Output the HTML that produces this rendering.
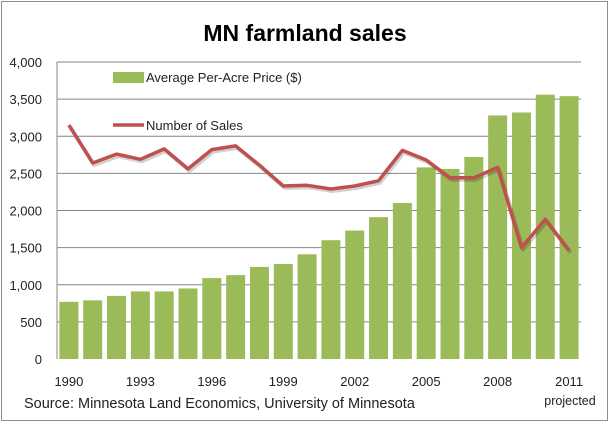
<!DOCTYPE html>
<html><head><meta charset="utf-8"><style>
body{margin:0;background:#fff;}
svg{display:block;font-family:"Liberation Sans",sans-serif;}
</style></head><body>
<svg id="chart" width="610" height="423">
<rect x="1.5" y="1.5" width="606" height="419" fill="#fff" stroke="#8c8c8c"/>
<text x="305" y="41" text-anchor="middle" font-size="23" font-weight="bold" fill="#000">MN farmland sales</text>
<g id="grid"></g><g id="bars"></g><g id="line"></g><g id="axes"></g>
<g>
<rect x="113" y="72" width="31" height="11" fill="#9bbb59"/>
<text x="146" y="82" font-size="13" fill="#222">Average Per-Acre Price ($)</text>
<line x1="113" y1="125" x2="144" y2="125" stroke="#c0504d" stroke-width="3.5"/>
<text x="146" y="130" font-size="13" fill="#222">Number of Sales</text>
</g>
<text x="24" y="408" font-size="14.5" fill="#222">Source: Minnesota Land Economics, University of Minnesota</text>
<text x="570" y="405" text-anchor="middle" font-size="12.5" fill="#222">projected</text>
</svg>
<script>
const years=[1990,1991,1992,1993,1994,1995,1996,1997,1998,1999,2000,2001,2002,2003,2004,2005,2006,2007,2008,2009,2010,2011];
const prices=[770,790,850,910,910,950,1090,1130,1240,1280,1410,1600,1730,1910,2100,2580,2560,2720,3280,3320,3560,3540];
const sales=[3150,2640,2760,2690,2830,2560,2820,2870,2610,2330,2340,2290,2330,2400,2810,2680,2440,2440,2580,1500,1880,1460];
const yTicks=[0,500,1000,1500,2000,2500,3000,3500,4000];
const xTickLabels=["1990","1993","1996","1999","2002","2005","2008","2011"];
const NS="http://www.w3.org/2000/svg";
const L=57,R=581,T=62,B=359,yMax=4000;
const band=(R-L)/years.length;
const xC=i=>L+band*(i+0.5);
const yS=v=>B-(v/yMax)*(B-T);
function mk(tag,attrs,parent){const e=document.createElementNS(NS,tag);for(const k in attrs)e.setAttribute(k,attrs[k]);document.getElementById(parent).appendChild(e);return e;}
yTicks.forEach(v=>{
  if(v>0){const g=mk('line',{x1:L,x2:R,y1:yS(v),y2:yS(v),stroke:'#868686','stroke-width':1},'grid');
  
  }
  const t=mk('text',{x:42,y:yS(v)+5,'text-anchor':'end','font-size':13,fill:'#222'},'axes');
  t.textContent=v.toLocaleString('en-US');
  
  
});
const ax=mk('line',{x1:L,x2:L,y1:T,y2:B,stroke:'#868686'},'axes');


prices.forEach((v,i)=>{
  const r=mk('rect',{x:xC(i)-9.5,y:yS(v),width:19,height:B-yS(v),fill:'#9bbb59'},'bars');
  
  
});
const pts=sales.map((v,i)=>xC(i).toFixed(1)+','+yS(v).toFixed(1)).join(' ');
const sh=mk('polyline',{points:pts,fill:'none',stroke:'rgba(0,0,0,0.18)','stroke-width':4,transform:'translate(1.5,2)','stroke-linejoin':'round'},'line');


const pl=mk('polyline',{points:pts,fill:'none',stroke:'#c0504d','stroke-width':3.5,'stroke-linejoin':'round'},'line');


xTickLabels.forEach(lbl=>{
  const i=years.indexOf(+lbl);
  const t=mk('text',{x:xC(i),y:386,'text-anchor':'middle','font-size':13,fill:'#222'},'axes');
  t.textContent=lbl;
  
  
});
</script>
</body></html>
